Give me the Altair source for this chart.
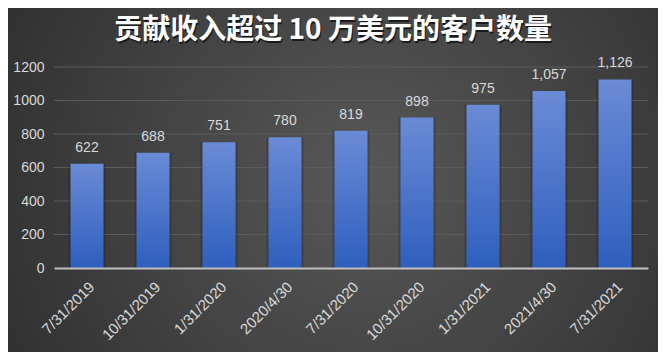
import altair as alt
import pandas as pd

dates = ["7/31/2019", "10/31/2019", "1/31/2020", "2020/4/30", "7/31/2020",
         "10/31/2020", "1/31/2021", "2021/4/30", "7/31/2021"]
customers = [622, 688, 751, 780, 819, 898, 975, 1057, 1126]
y_ticks = [0, 200, 400, 600, 800, 1000, 1200]
title_text = "贡献收入超过 10 万美元的客户数量"

df = pd.DataFrame({"date": dates, "customers": customers})
grid_df = pd.DataFrame({"customers": y_ticks[1:]})

LABEL = "#d9d9d9"
FONT = "Liberation Sans"

x_enc = alt.X("date:N", sort=dates,
              scale=alt.Scale(paddingInner=0.5, paddingOuter=0.25),
              axis=alt.Axis(title=None, labelAngle=-45, labelColor=LABEL,
                            labelFont=FONT, labelFontSize=15, labelPadding=11,
                            ticks=False, domainColor="#bfbfbf", domainWidth=2,
                            grid=False, zindex=1))
y_scale = alt.Scale(domain=[0, 1200], nice=False)
y_enc = alt.Y("customers:Q", scale=y_scale,
              axis=alt.Axis(title=None, values=y_ticks, format="d", grid=False,
                            domain=False, ticks=False, labelColor=LABEL,
                            labelFont=FONT, labelFontSize=14, labelPadding=10,
                            zindex=1))

bg = alt.Chart(alt.Data(values=[{}])).mark_rect(
    fill=alt.RadialGradient(
        gradient="radial", x1=0.55, y1=0.5, r1=0, x2=0.55, y2=0.5, r2=0.78,
        stops=[alt.GradientStop(offset=0, color="#585858"),
               alt.GradientStop(offset=1, color="#262626")])
).encode(x=alt.value(-46), x2=alt.value(604), y=alt.value(-59), y2=alt.value(285))

grid = alt.Chart(grid_df).mark_rule(color="#5c5c5c", strokeWidth=1).encode(y=y_enc)

shadow = alt.Chart(df).mark_bar(color="#000000", opacity=0.18,
                                width=alt.RelativeBandSize(1.12)).encode(
    x=x_enc, y=y_enc)

bars = alt.Chart(df).mark_bar(
    width=alt.RelativeBandSize(1),
    color=alt.LinearGradient(
        gradient="linear", x1=0, y1=0, x2=0, y2=1,
        stops=[alt.GradientStop(offset=0, color="#6a8bd6"),
               alt.GradientStop(offset=1, color="#2e5fbe")])
).encode(x=x_enc, y=y_enc)

labels = alt.Chart(df).mark_text(
    color=LABEL, font=FONT, fontSize=14, baseline="alphabetic", dy=-12
).encode(x=x_enc, y=y_enc, text=alt.Text("customers:Q", format=","))

title_shadow = alt.Chart(alt.Data(values=[{}])).mark_text(
    text=title_text, font="Noto Sans CJK SC", fontSize=28, fontWeight="bold",
    color="#111111", opacity=0.8, align="center", baseline="middle"
).encode(x=alt.value(280), y=alt.value(-34))

title = alt.Chart(alt.Data(values=[{}])).mark_text(
    text=title_text, font="Noto Sans CJK SC", fontSize=28, fontWeight="bold",
    color="#ffffff", align="center", baseline="middle"
).encode(x=alt.value(279), y=alt.value(-36))

chart = alt.layer(bg, grid, shadow, bars, labels, title_shadow, title).properties(
    width=594, height=201,
    autosize=alt.AutoSizeParams(type="none"),
    padding={"left": 46, "top": 59, "right": 10, "bottom": 84},
).configure_view(stroke=None).configure(background="#2a2a2a")

chart.save("out.html", embed_options={"renderer": "svg", "actions": False})
